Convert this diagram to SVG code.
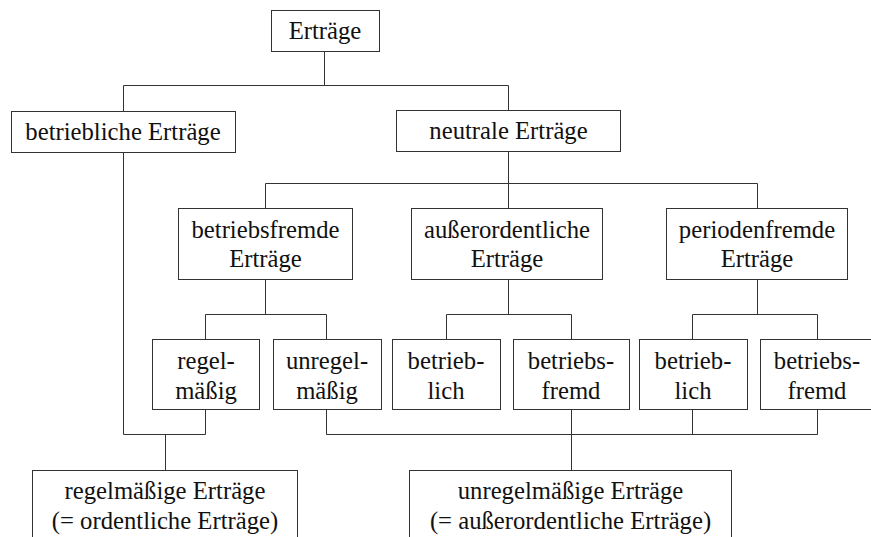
<svg xmlns="http://www.w3.org/2000/svg" width="871" height="537" viewBox="0 0 871 537">
<style>
rect{fill:#fff;stroke:#333;stroke-width:1}
text{font-family:"Liberation Serif",Tinos,"Times New Roman",Times,"Nimbus Roman","DejaVu Serif",serif;font-size:24.7px;fill:#111;text-anchor:middle}
#connectors path{fill:none;stroke:#333;stroke-width:1}
</style>
<rect x="0" y="0" width="871" height="537" style="stroke:none"/>
<g id="connectors">
<path d="M324.5,51V85.5M123.5,111V85.5H508.5V110"/>
<path d="M508.5,151V183.5M265.5,208V183.5H757.5V208M508.5,183.5V208"/>
<path d="M265.5,279V314.5M205.5,339V314.5H326.5V339"/>
<path d="M508.5,279V314.5M446.5,339V314.5H571.5V339"/>
<path d="M757.5,279V314.5M692.5,339V314.5H817.5V339"/>
<path d="M123.5,152V434.5H205.5V409M165.5,434.5V470"/>
<path d="M326.5,409V434.5H817.5V409M692.5,409V434.5M571.5,409V470"/>
</g>
<g id="n0"><rect x="271.5" y="10.5" width="108" height="41"/><text x="325" y="39">Erträge</text></g>
<g id="n1"><rect x="11.5" y="111.5" width="224" height="41"/><text x="123" y="140">betriebliche Erträge</text></g>
<g id="n2"><rect x="396.5" y="110.5" width="224" height="41"/><text x="508.5" y="139">neutrale Erträge</text></g>
<g id="n3"><rect x="178.5" y="208.5" width="174" height="71"/><text x="265.5" y="237.5">betriebsfremde</text><text x="265.5" y="266.5">Erträge</text></g>
<g id="n4"><rect x="411.5" y="208.5" width="191" height="71"/><text x="507" y="237.5">außerordentliche</text><text x="507" y="266.5">Erträge</text></g>
<g id="n5"><rect x="666.5" y="208.5" width="181" height="71"/><text x="757" y="237.5">periodenfremde</text><text x="757" y="266.5">Erträge</text></g>
<g id="n6"><rect x="152.5" y="339.5" width="107" height="70"/><text x="206" y="368.5">regel-</text><text x="206" y="398.5">mäßig</text></g>
<g id="n7"><rect x="273.5" y="339.5" width="108" height="70"/><text x="327" y="368.5">unregel-</text><text x="327" y="398.5">mäßig</text></g>
<g id="n8"><rect x="392.5" y="339.5" width="108" height="70"/><text x="446" y="368.5">betrieb-</text><text x="446" y="398.5">lich</text></g>
<g id="n9"><rect x="513.5" y="339.5" width="116" height="70"/><text x="571" y="368.5">betriebs-</text><text x="571" y="398.5">fremd</text></g>
<g id="n10"><rect x="639.5" y="339.5" width="108" height="70"/><text x="693" y="368.5">betrieb-</text><text x="693" y="398.5">lich</text></g>
<g id="n11"><rect x="760.5" y="339.5" width="115" height="70"/><text x="817" y="368.5">betriebs-</text><text x="817" y="398.5">fremd</text></g>
<g id="n12"><rect x="32.5" y="470.5" width="265" height="80"/><text x="165" y="499">regelmäßige Erträge</text><text x="165" y="528.5">(= ordentliche Erträge)</text></g>
<g id="n13"><rect x="409.5" y="470.5" width="322" height="80"/><text x="570.5" y="499">unregelmäßige Erträge</text><text x="570.5" y="528.5">(= außerordentliche Erträge)</text></g>
</svg>
